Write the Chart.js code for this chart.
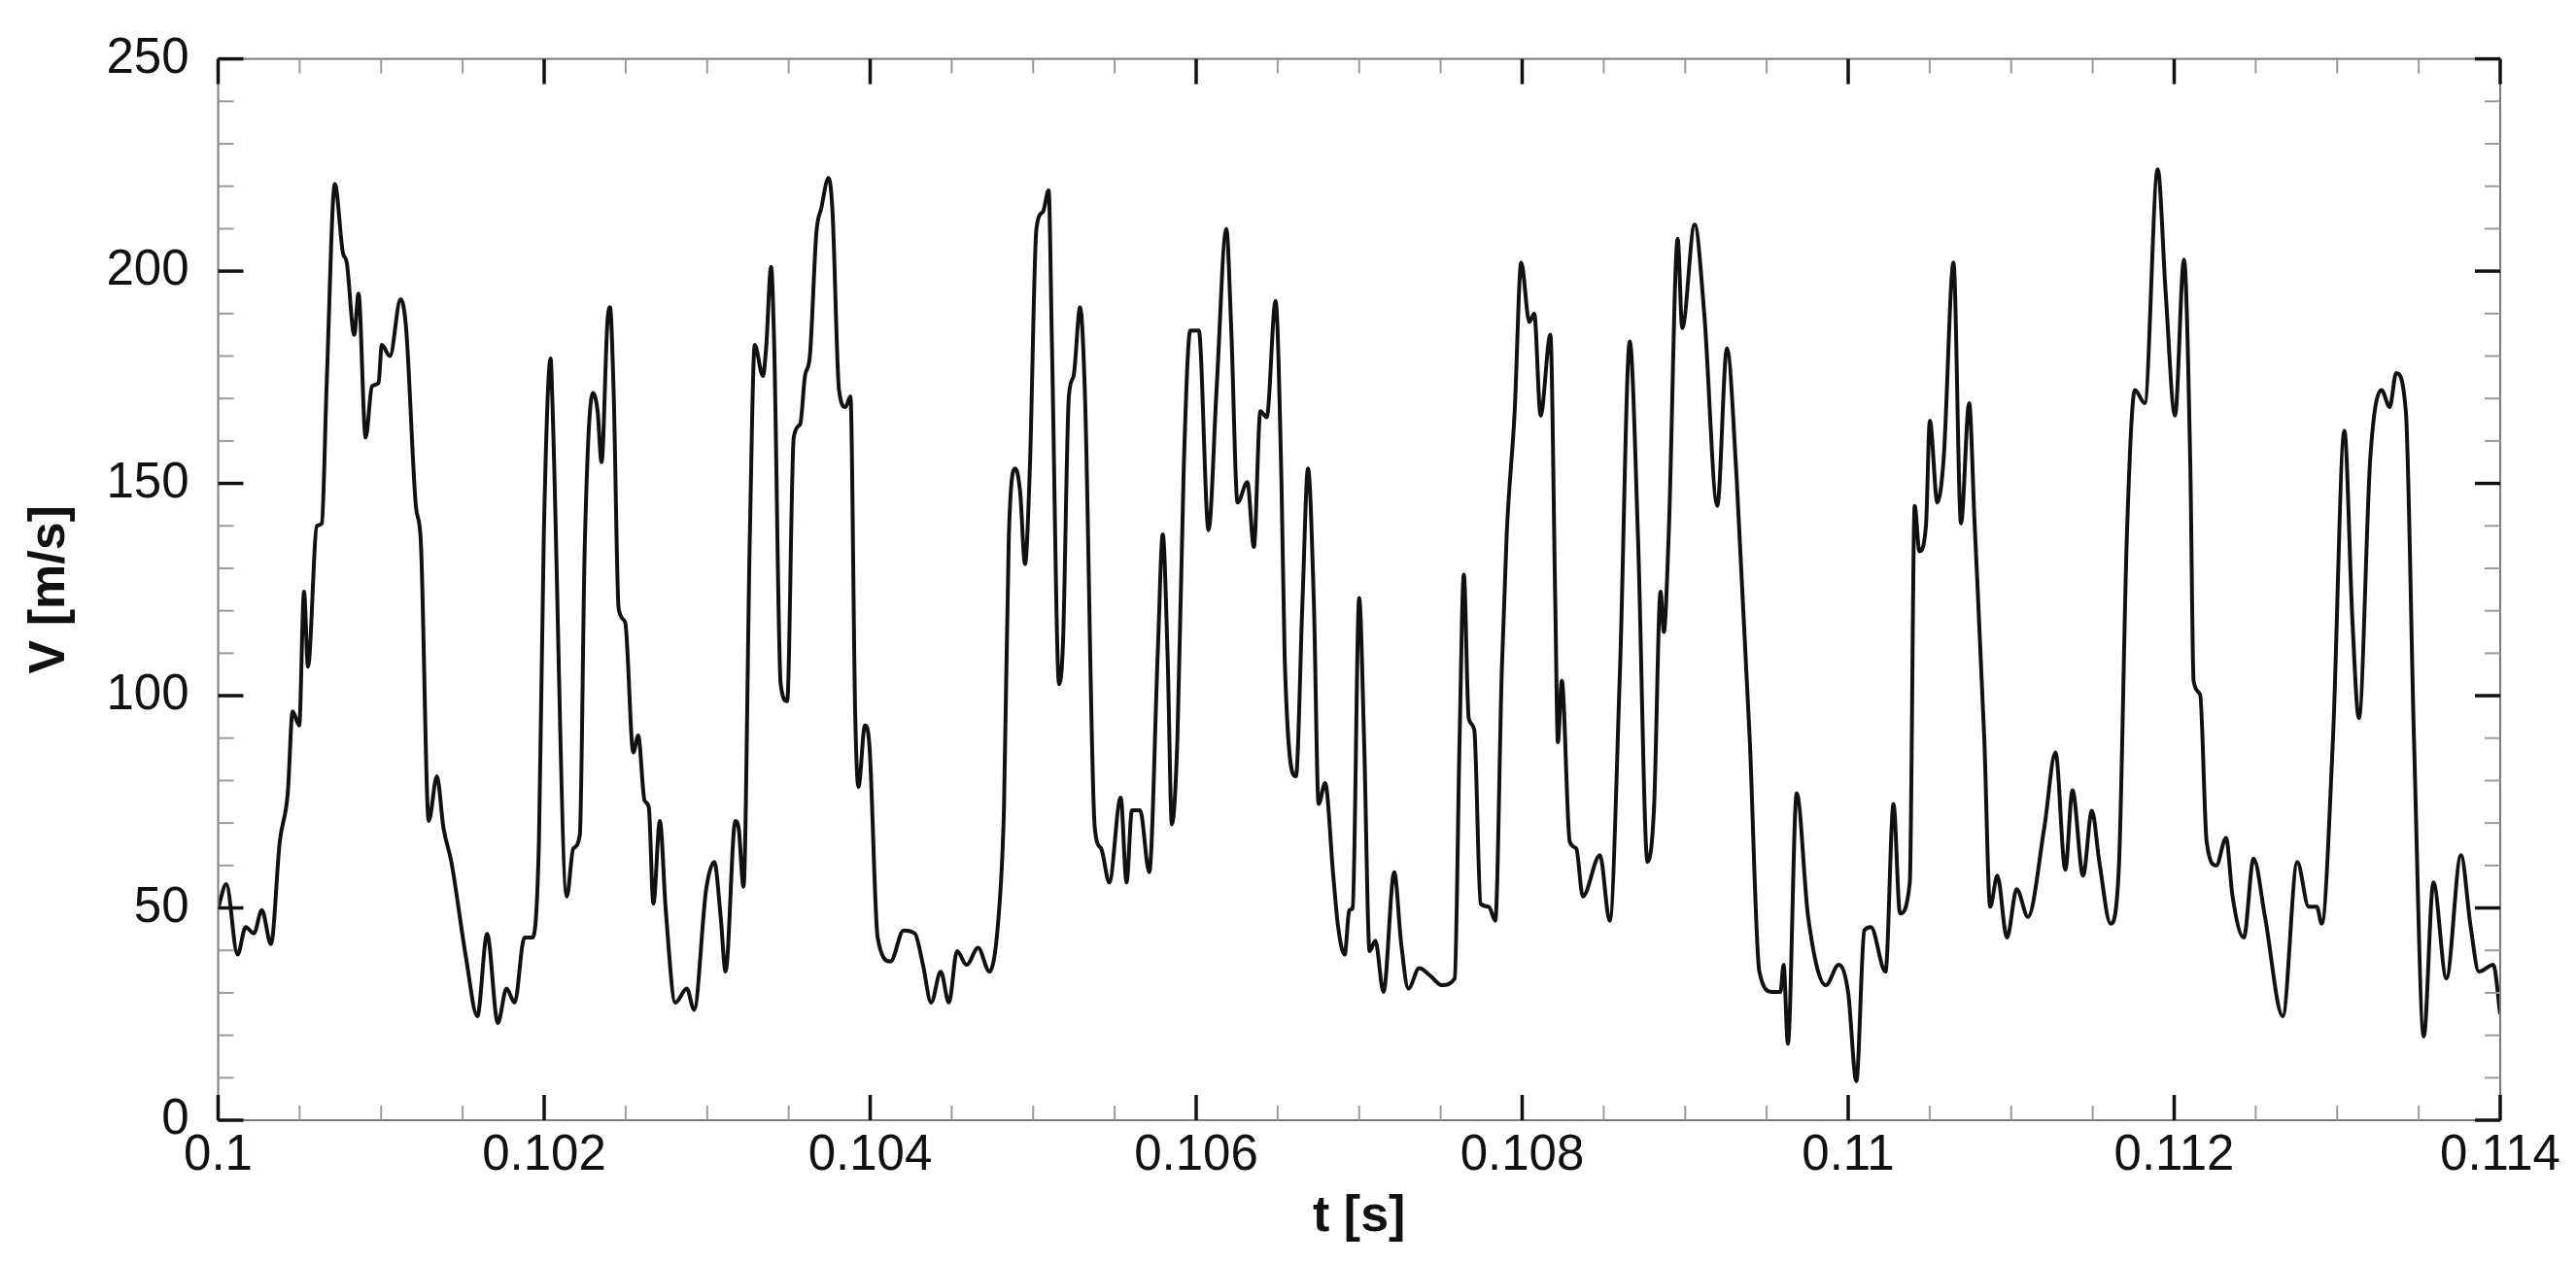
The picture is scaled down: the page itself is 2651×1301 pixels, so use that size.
<!DOCTYPE html>
<html>
<head>
<meta charset="utf-8">
<script src="https://cdn.jsdelivr.net/npm/chart.js@4"></script>
<style>
html,body{margin:0;padding:0;background:#fff;}
canvas{display:block;}
</style>
</head>
<body>
<canvas id="c" width="2651" height="1301" style="width:2651px;height:1301px"></canvas>
<script>
// ---- data ----
const timeS = [
0.100000,0.100050,0.100119,0.100169,0.100219,0.100268,0.100324,0.100378,0.100427,0.100457,
0.100497,0.100527,0.100551,0.100606,0.100636,0.100666,0.100716,0.100765,0.100789,0.100835,
0.100861,0.100905,0.100944,0.100984,0.101004,0.101054,0.101119,0.101153,0.101213,0.101243,
0.101292,0.101342,0.101382,0.101431,0.101521,0.101590,0.101650,0.101716,0.101769,0.101819,
0.101879,0.101928,0.101968,0.101998,
0.102040,0.102050,0.102139,0.102179,0.102219,0.102249,0.102298,0.102328,0.102352,0.102388,
0.102404,0.102427,0.102457,0.102497,0.102547,0.102577,0.102616,0.102642,0.102670,0.102710,
0.102746,0.102805,0.102875,0.102920,0.102994,0.103044,0.103083,0.103113,0.103173,0.103193,
0.103223,0.103262,0.103292,0.103342,0.103362,0.103392,0.103411,0.103451,0.103491,0.103531,
0.103571,0.103600,0.103630,0.103670,0.103700,0.103745,0.103769,0.103809,0.103849,0.103879,
0.103908,0.103928,0.103968,0.103996,
0.104046,0.104125,0.104205,0.104274,0.104324,0.104374,0.104433,0.104483,0.104533,0.104592,
0.104662,0.104732,0.104791,0.104821,0.104851,0.104891,0.104920,0.104950,0.104980,0.105020,
0.105060,0.105095,0.105115,0.105159,0.105183,0.105219,0.105248,0.105288,0.105318,0.105378,
0.105417,0.105467,0.105537,0.105573,0.105606,0.105656,0.105712,0.105765,0.105795,0.105825,
0.105851,0.105885,0.105924,0.105964,
0.106016,0.106076,0.106125,0.106185,0.106215,0.106254,0.106314,0.106354,0.106394,0.106433,
0.106487,0.106523,0.106543,0.106612,0.106652,0.106686,0.106722,0.106751,0.106791,0.106841,
0.106871,0.106911,0.106940,0.106960,0.107000,0.107030,0.107064,0.107099,0.107149,0.107215,
0.107258,0.107302,0.107368,0.107437,0.107507,0.107586,0.107616,0.107642,0.107672,0.107706,
0.107745,0.107795,0.107835,0.107875,0.107905,0.107954,0.107994,
0.108044,0.108074,0.108113,0.108173,0.108203,0.108219,0.108243,0.108292,0.108332,0.108372,
0.108477,0.108537,0.108600,0.108660,0.108710,0.108769,0.108809,0.108849,0.108869,0.108899,
0.108954,0.108982,0.109058,0.109117,0.109197,0.109256,0.109316,0.109396,0.109455,0.109535,
0.109584,0.109604,0.109630,0.109684,0.109754,0.109863,0.109942,
0.110000,0.110050,0.110099,0.110139,0.110229,0.110278,0.110318,0.110378,0.110408,0.110437,
0.110477,0.110501,0.110547,0.110586,0.110646,0.110692,0.110742,0.110775,0.110835,0.110871,
0.110915,0.110974,0.111034,0.111103,0.111203,0.111272,0.111332,0.111376,0.111441,0.111495,
0.111541,0.111610,0.111660,0.111710,0.111759,0.111819,0.111899,0.111948,
0.112005,0.112060,0.112099,0.112119,0.112159,0.112199,0.112258,0.112318,0.112358,0.112427,
0.112487,0.112557,0.112666,0.112755,0.112825,0.112875,0.112905,0.112974,0.113044,0.113093,
0.113133,0.113203,0.113272,0.113322,0.113362,0.113421,0.113471,0.113531,0.113590,0.113670,
0.113759,0.113819,0.113869,0.113958,0.114000
];
const velocity = [
50,55.6,39,45.5,44,49.5,41.5,65.6,77,96.3,
93,124.5,106.8,140,140.6,173.7,220.5,204.4,202,185,
194.7,160.8,172.9,173.7,182.6,180,193.4,186.6,144.7,136.6,
70.5,81,68.9,60.8,38.2,24.5,43.9,22.9,31,27.7,
43,43,65.6,138,
179.4,170,52.7,64,67.3,135,171.3,167,155,188,
191.5,170.5,120.5,117.3,86.6,90.6,75.3,73.7,51,70.5,
49.5,27.7,31,26,54.4,60.8,47.9,35,70.5,68.9,
55,138,182.6,175.3,182,201,183,102.7,98.7,160.8,
164,175.3,180,209,214.8,222,214,172,168,170.5,
96,78.5,93,88,
43,37.4,44.7,44,36.6,27.7,35,27.7,39.8,36.6,
40.6,35,49.5,73.7,138,153.5,148,131,154,210,
214,219,183,102.7,112.4,170.5,175.3,191.5,170.5,68.9,
64,56,76,56,73,73,58.4,110.8,138,109,
69.7,90,154,186,
186,139,172,210,186.6,145.5,150.3,135,167,165.6,
193,151,109,81,122,153.5,122,74.5,79.4,57.6,
45.5,39,49.5,50,123,89.8,39.8,42.3,30.2,58.4,
41.5,31,35.8,34,31.8,33.4,89.8,128.5,94.7,92,
51,50.3,47,106,138,167,202,
188,190,166,185,122,89,103.5,65.6,64,52.7,
62.4,47,106,183.4,138,60.8,73.7,124.5,115,138,
207.6,186.6,211,190,144.7,181.8,151,89.8,35,30.2,
30.2,36.6,18,77,48,31.8,36.6,
30,9.2,44.7,45.5,35,74.5,48.7,56,144.7,134,
140,164.8,145.5,156,202,140.6,168.9,141,89.8,50.3,
57.6,43,54.4,47.9,68.9,86.6,59,77.7,57.6,72.9,
60.8,46.3,59,138,172,168.9,224,194.7,
166,202.7,154,103.5,100.3,65.6,60,66.5,52.7,43,
61.6,47.9,24.5,60.8,50.3,50.3,46.3,89.8,162.4,118,
94.7,156,172,168,176,167,89.8,19.7,56,33.4,
62.4,45.5,35,36.6,25
];
const xTickValues = [0.1,0.102,0.104,0.106,0.108,0.11,0.112,0.114];
const yTickValues = [0,50,100,150,200,250];
const xMinorStep = 0.0005;
const yMinorStep = 10;
const xTitle = 't [s]';
const yTitle = 'V [m/s]';

const FONT = "'Liberation Sans', Arial, Helvetica, sans-serif";

const frameTicks = {
  id: 'frameTicks',
  afterDatasetsDraw(chart) {
    const {ctx, chartArea: a, scales: {x, y}} = chart;
    ctx.save();
    ctx.strokeStyle = '#7a7a7a';
    ctx.lineWidth = 2;
    ctx.strokeRect(a.left, a.top, a.right - a.left, a.bottom - a.top);
    const seg = (x1, y1, x2, y2) => { ctx.beginPath(); ctx.moveTo(x1, y1); ctx.lineTo(x2, y2); ctx.stroke(); };
    ctx.strokeStyle = '#9a9a9a';
    ctx.lineWidth = 2;
    const nx = Math.round((x.max - x.min) / xMinorStep);
    for (let i = 0; i <= nx; i++) {
      const px = x.getPixelForValue(x.min + i * xMinorStep);
      seg(px, a.bottom, px, a.bottom - 15);
      seg(px, a.top, px, a.top + 15);
    }
    const ny = Math.round((y.max - y.min) / yMinorStep);
    for (let i = 0; i <= ny; i++) {
      const py = y.getPixelForValue(y.min + i * yMinorStep);
      seg(a.left, py, a.left + 16, py);
      seg(a.right, py, a.right - 16, py);
    }
    ctx.strokeStyle = '#111';
    ctx.lineWidth = 3.5;
    xTickValues.forEach(v => {
      const px = x.getPixelForValue(v);
      seg(px, a.bottom, px, a.bottom - 26);
      seg(px, a.top, px, a.top + 26);
    });
    yTickValues.forEach(v => {
      const py = y.getPixelForValue(v);
      seg(a.left, py, a.left + 26, py);
      seg(a.right, py, a.right - 26, py);
    });
    ctx.restore();
  }
};

new Chart(document.getElementById('c'), {
  type: 'line',
  data: {
    datasets: [{
      data: timeS.map((t, i) => ({x: t, y: velocity[i]})),
      borderColor: '#111',
      borderWidth: 4,
      pointRadius: 0,
      fill: false,
      cubicInterpolationMode: 'monotone'
    }]
  },
  options: {
    responsive: false,
    devicePixelRatio: 1,
    animation: false,
    layout: {padding: {top: 55, right: 78, left: 0, bottom: 0}},
    plugins: {legend: {display: false}, tooltip: {enabled: false}},
    scales: {
      x: {
        type: 'linear',
        min: 0.1, max: 0.114,
        afterBuildTicks: s => { s.ticks = xTickValues.map(v => ({value: v})); },
        afterFit: s => { s.height = 148; },
        grid: {display: false, drawTicks: false},
        border: {display: false},
        ticks: {
          autoSkip: false, maxRotation: 0, padding: 6, color: '#111',
          font: {family: FONT, size: 51},
          callback: v => String(+(+v).toFixed(3))
        },
        title: {display: true, text: xTitle, color: '#111',
          font: {family: FONT, size: 52, weight: 'bold'}, padding: {top: 0, bottom: 17}}
      },
      y: {
        type: 'linear',
        min: 0, max: 250,
        afterBuildTicks: s => { s.ticks = yTickValues.map(v => ({value: v})); },
        afterFit: s => { s.width = 224.5; },
        grid: {display: false, drawTicks: false},
        border: {display: false},
        ticks: {
          padding: 30, color: '#111',
          font: {family: FONT, size: 51},
          callback: v => String(v)
        },
        title: {display: true, text: yTitle, color: '#111',
          font: {family: FONT, size: 52, weight: 'bold'}, padding: {top: 20, bottom: 0}}
      }
    }
  },
  plugins: [frameTicks]
});
</script>
</body>
</html>
